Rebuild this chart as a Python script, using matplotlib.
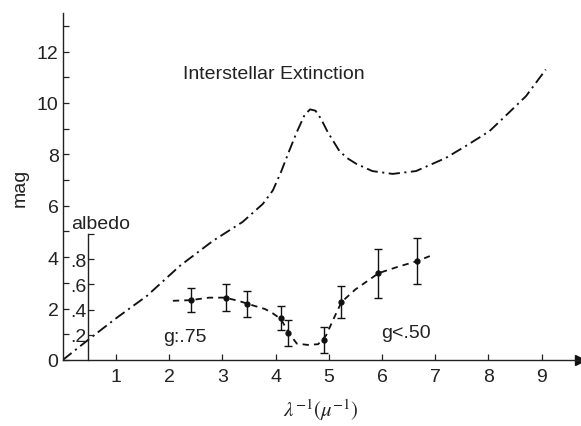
import matplotlib
matplotlib.use("Agg")
import matplotlib.pyplot as plt

plt.rcParams["font.family"] = ["Liberation Sans", "DejaVu Sans"]
plt.rcParams["mathtext.fontset"] = "stix"

# interstellar extinction curve (mag vs inverse wavelength)
ext_x = [0, 0.5, 1.0, 1.58, 2.2, 2.82, 3.38, 3.76, 3.95, 4.1, 4.25, 4.4, 4.55, 4.65,
         4.75, 4.85, 4.98, 5.2, 5.35, 5.52, 5.82, 6.2, 6.64, 7.2, 7.58, 8.02, 8.4,
         8.71, 9.08]
ext_y = [0, 0.82, 1.62, 2.49, 3.66, 4.63, 5.37, 6.07, 6.6, 7.3, 8.1, 8.87, 9.55, 9.75,
         9.7, 9.4, 8.87, 8.13, 7.85, 7.63, 7.35, 7.24, 7.35, 7.86, 8.33, 8.9, 9.65,
         10.27, 11.3]

# albedo measurements
alb_x = [2.41, 3.06, 3.46, 4.1, 4.24, 4.91, 5.23, 5.93, 6.66]
alb_y = [0.475, 0.495, 0.445, 0.335, 0.215, 0.16, 0.46, 0.69, 0.785]
alb_err = [0.095, 0.11, 0.105, 0.095, 0.105, 0.105, 0.13, 0.195, 0.185]

# dashed albedo trend
trend_x = [2.07, 2.4, 2.75, 3.05, 3.3, 3.6, 3.8, 3.95, 4.1, 4.25, 4.4, 4.6, 4.8,
           4.95, 5.1, 5.24, 5.5, 5.94, 6.3, 6.66, 6.9]
trend_y = [0.47, 0.475, 0.495, 0.495, 0.47, 0.43, 0.405, 0.37, 0.325, 0.215, 0.13,
           0.12, 0.125, 0.195, 0.335, 0.46, 0.56, 0.69, 0.74, 0.785, 0.825]

mag_ticks = list(range(0, 14))
mag_labels = [str(t) if t % 2 == 0 and t <= 12 else "" for t in mag_ticks]
alb_ticks = [0.2, 0.4, 0.6, 0.8, 1.0]
alb_labels = [".2", ".4", ".6", ".8", ""]
alb_top = 4.9  # mag value matching albedo 1.0
alb_axis_x = 0.47

fs = 14
ink = "#222222"

fig = plt.figure(figsize=(5.81, 4.27), dpi=100)
ax = fig.add_axes([0.108, 0.1546, 0.890, 0.8126])
ax.set_xlim(0, 9.72)
ax.set_ylim(0, 13.5)

for s in ["top", "right"]:
    ax.spines[s].set_visible(False)
for s in ["left", "bottom"]:
    ax.spines[s].set_linewidth(1.0)
    ax.spines[s].set_color(ink)

ax.set_xticks(range(1, 10))
ax.set_yticks(mag_ticks)
ax.set_yticklabels(mag_labels)
ax.tick_params(axis="both", direction="in", length=4.3, width=0.9, labelsize=fs,
               colors=ink)
ax.tick_params(axis="x", pad=6)
ax.tick_params(axis="y", pad=3)
ax.plot(1, 0, ">", color="#111111", markersize=7, transform=ax.get_yaxis_transform(),
        clip_on=False)

ax.plot(ext_x, ext_y, color="#111111", lw=1.35, linestyle=(0, (6, 2.4, 1.1, 2.4)))
ax.text(2.26, 11.13, "Interstellar Extinction", fontsize=fs, va="center", ha="left",
        color=ink)

ax.set_xlabel(r"$\lambda^{-1}(\mu^{-1})$", fontsize=15, labelpad=8, color=ink)
ax.set_ylabel("mag", fontsize=fs, labelpad=6, color=ink)

# albedo scale drawn as its own axes inside the magnitude frame
ax2 = ax.inset_axes([alb_axis_x, 0, 9.72 - alb_axis_x, alb_top], transform=ax.transData)
ax2.patch.set_visible(False)
ax2.set_xlim(alb_axis_x, 9.72)
ax2.set_ylim(0, 1)
for s in ["top", "right", "bottom"]:
    ax2.spines[s].set_visible(False)
ax2.spines["left"].set_linewidth(1.0)
ax2.spines["left"].set_color(ink)
ax2.set_xticks([])
ax2.set_yticks(alb_ticks)
ax2.set_yticklabels(alb_labels)
ax2.tick_params(axis="y", direction="in", length=4.3, width=0.9, labelsize=fs, pad=1,
                colors=ink)
ax.text(0.15, 5.13, "albedo", fontsize=fs, ha="left", va="baseline", color=ink)

ax2.plot(trend_x, trend_y, color="#111111", lw=1.3, linestyle=(0, (3.5, 2.8)),
         clip_on=False)
ax2.errorbar(alb_x, alb_y, yerr=alb_err, fmt="o", color="#111111", markersize=3.5,
             elinewidth=1.0, capsize=3, capthick=1.0, clip_on=False)

ax.text(1.88, 0.74, "g:.75", fontsize=fs, ha="left", va="baseline", color=ink)
ax.text(5.99, 0.9, "g<.50", fontsize=fs, ha="left", va="baseline", color=ink)

fig.savefig("out.png", dpi=100)
